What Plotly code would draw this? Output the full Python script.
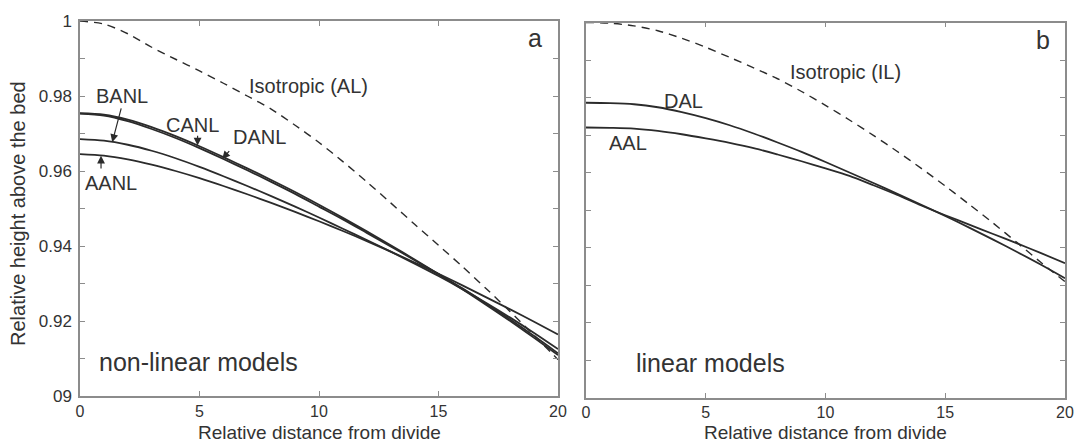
import plotly.graph_objects as go

# ---------------- data ----------------
x_dist = [0, 1, 2, 3, 4, 5, 6, 7, 8, 9, 10, 11, 12, 13, 14, 15, 16, 17, 18, 19, 20]

# panel a: non-linear models
iso_AL = [1.0000, 0.9992, 0.9966, 0.9930, 0.9898, 0.9867, 0.9834, 0.9800, 0.9765, 0.9722, 0.9676,
          0.9625, 0.9571, 0.9515, 0.9458, 0.9402, 0.9345, 0.9286, 0.9225, 0.9162, 0.9097]
CANL = [0.9754, 0.9750, 0.9737, 0.9717, 0.9693, 0.9666, 0.9637, 0.9607, 0.9576, 0.9544, 0.9510,
        0.9475, 0.9439, 0.9402, 0.9364, 0.9325, 0.9285, 0.9243, 0.9200, 0.9155, 0.9109]
DANL = [0.9753, 0.9748, 0.9733, 0.9712, 0.9688, 0.9661, 0.9632, 0.9602, 0.9571, 0.9539, 0.9505,
        0.9471, 0.9435, 0.9399, 0.9362, 0.9325, 0.9287, 0.9246, 0.9204, 0.9160, 0.9114]
BANL = [0.9685, 0.9681, 0.9670, 0.9654, 0.9634, 0.9611, 0.9586, 0.9560, 0.9533, 0.9505, 0.9476,
        0.9446, 0.9416, 0.9385, 0.9353, 0.9320, 0.9285, 0.9248, 0.9209, 0.9168, 0.9125]
AANL = [0.9645, 0.9641, 0.9631, 0.9617, 0.9600, 0.9581, 0.9560, 0.9538, 0.9515, 0.9491, 0.9466,
        0.9440, 0.9413, 0.9385, 0.9356, 0.9326, 0.9295, 0.9263, 0.9231, 0.9198, 0.9164]

# panel b: linear models
iso_IL = [1.0000, 0.9998, 0.9991, 0.9978, 0.9958, 0.9934, 0.9907, 0.9879, 0.9850, 0.9816, 0.9779,
          0.9740, 0.9699, 0.9656, 0.9611, 0.9564, 0.9515, 0.9465, 0.9413, 0.9360, 0.9309]
DAL = [0.9786, 0.9785, 0.9782, 0.9774, 0.9761, 0.9745, 0.9726, 0.9704, 0.9680, 0.9655, 0.9628,
       0.9600, 0.9572, 0.9543, 0.9514, 0.9484, 0.9453, 0.9421, 0.9388, 0.9354, 0.9318]
AAL = [0.9720, 0.9719, 0.9717, 0.9711, 0.9702, 0.9691, 0.9679, 0.9665, 0.9648, 0.9630, 0.9611,
       0.9591, 0.9566, 0.9540, 0.9512, 0.9486, 0.9461, 0.9436, 0.9411, 0.9385, 0.9358]

x_ticks = [0, 5, 10, 15, 20]
y_ticks = [0.90, 0.91, 0.92, 0.93, 0.94, 0.95, 0.96, 0.97, 0.98, 0.99, 1.00]
y_ticktext = ["09", "", "0.92", "", "0.94", "", "0.96", "", "0.98", "", "1"]

# ---------------- figure ----------------
FONT = "Liberation Sans, Arial, sans-serif"
LINE = "#2b2b2b"
AXC = "#8c8c8c"
TXT = "#333333"

fig = go.Figure()


def add_curve(y, xa, ya, dashed=False):
    fig.add_trace(go.Scatter(
        x=x_dist, y=y, mode="lines", xaxis=xa, yaxis=ya, showlegend=False, hoverinfo="skip",
        line=dict(color=LINE, width=1.4 if dashed else 1.8, dash="8px,6px" if dashed else "solid",
                  shape="spline", smoothing=0.8)))


add_curve(iso_AL, "x", "y", dashed=True)
for s in (CANL, DANL, BANL, AANL):
    add_curve(s, "x", "y")
add_curve(iso_IL, "x2", "y2", dashed=True)
for s in (DAL, AAL):
    add_curve(s, "x2", "y2")

W, H = 1077, 444
axis_common = dict(showgrid=False, zeroline=False, showline=True, linecolor=AXC, linewidth=1.5,
                   mirror="allticks", ticks="inside", ticklen=5, tickwidth=1, tickcolor=AXC,
                   automargin=False, tickfont=dict(family=FONT, size=17, color=TXT))
xtick_font = dict(family=FONT, size=16, color=TXT)

fig.update_layout(
    width=W, height=H, margin=dict(l=0, r=0, t=0, b=0, autoexpand=False),
    paper_bgcolor="white", plot_bgcolor="white",
    xaxis=dict(axis_common, domain=[80 / W, 558 / W], range=[0, 20], tickvals=x_ticks,
               anchor="y", ticklabelstandoff=0, tickfont=xtick_font),
    yaxis=dict(axis_common, domain=[1 - 396 / H, 1 - 21 / H], range=[0.9, 1.0],
               tickvals=y_ticks, ticktext=y_ticktext, anchor="x", ticklabelstandoff=3),
    xaxis2=dict(axis_common, domain=[586 / W, 1065 / W], range=[0, 20], tickvals=x_ticks,
                anchor="y2", ticklabelstandoff=0, tickfont=xtick_font),
    yaxis2=dict(axis_common, domain=[1 - 397.5 / H, 1 - 22.5 / H], range=[0.9, 1.0],
                tickvals=y_ticks, showticklabels=False, anchor="x2"),
)

ann = []


def label(text, x, y, xr, yr, size=20, xanchor="center"):
    ann.append(dict(text=text, x=x, y=y, xref=xr, yref=yr, showarrow=False, xanchor=xanchor,
                    yanchor="middle", font=dict(family=FONT, size=size, color=TXT)))


def arrow(xh, yh, xt, yt, xr, yr):
    ann.append(dict(text="", x=xh, y=yh, ax=xt, ay=yt, xref=xr, yref=yr, axref=xr, ayref=yr,
                    showarrow=True, arrowhead=2, arrowsize=1.3, arrowwidth=1.2, arrowcolor=LINE))


# panel a labels
label("Isotropic (AL)", 7.0, 0.9827, "x", "y", xanchor="left")
label("BANL", 1.76, 0.9800, "x", "y")
label("CANL", 4.71, 0.9723, "x", "y")
label("DANL", 7.51, 0.9691, "x", "y")
label("AANL", 1.30, 0.9567, "x", "y")
label("non-linear models", 0.72, 0.9090, "x", "y", size=25, xanchor="left")
label("a", 19.04, 0.9955, "x", "y", size=25)
arrow(1.35, 0.9677, 1.74, 0.9771, "x", "y")
arrow(4.92, 0.9668, 4.92, 0.9698, "x", "y")
arrow(5.95, 0.9632, 6.30, 0.9657, "x", "y")
arrow(0.88, 0.9641, 0.88, 0.9603, "x", "y")

# panel b labels
label("Isotropic (IL)", 8.42, 0.9869, "x2", "y2", xanchor="left")
label("DAL", 4.08, 0.9792, "x2", "y2")
label("AAL", 1.77, 0.9680, "x2", "y2")
label("linear models", 2.0, 0.9092, "x2", "y2", size=25, xanchor="left")
label("b", 19.08, 0.9953, "x2", "y2", size=25)

# axis titles
for cx in ((80 + 558) / 2 / W, (586 + 1065) / 2 / W):
    ann.append(dict(text="Relative distance from divide", x=cx, y=0, xref="paper",
                    yref="paper", showarrow=False, xanchor="center", yanchor="bottom",
                    borderpad=0, font=dict(family=FONT, size=19, color=TXT)))
ann.append(dict(text="Relative height above the bed", x=18 / W, y=1 - 214 / H, xref="paper",
                yref="paper", showarrow=False, textangle=-90, xanchor="center", yanchor="middle",
                font=dict(family=FONT, size=20, color=TXT)))

fig.update_layout(annotations=ann)
fig.write_html("out.html")
